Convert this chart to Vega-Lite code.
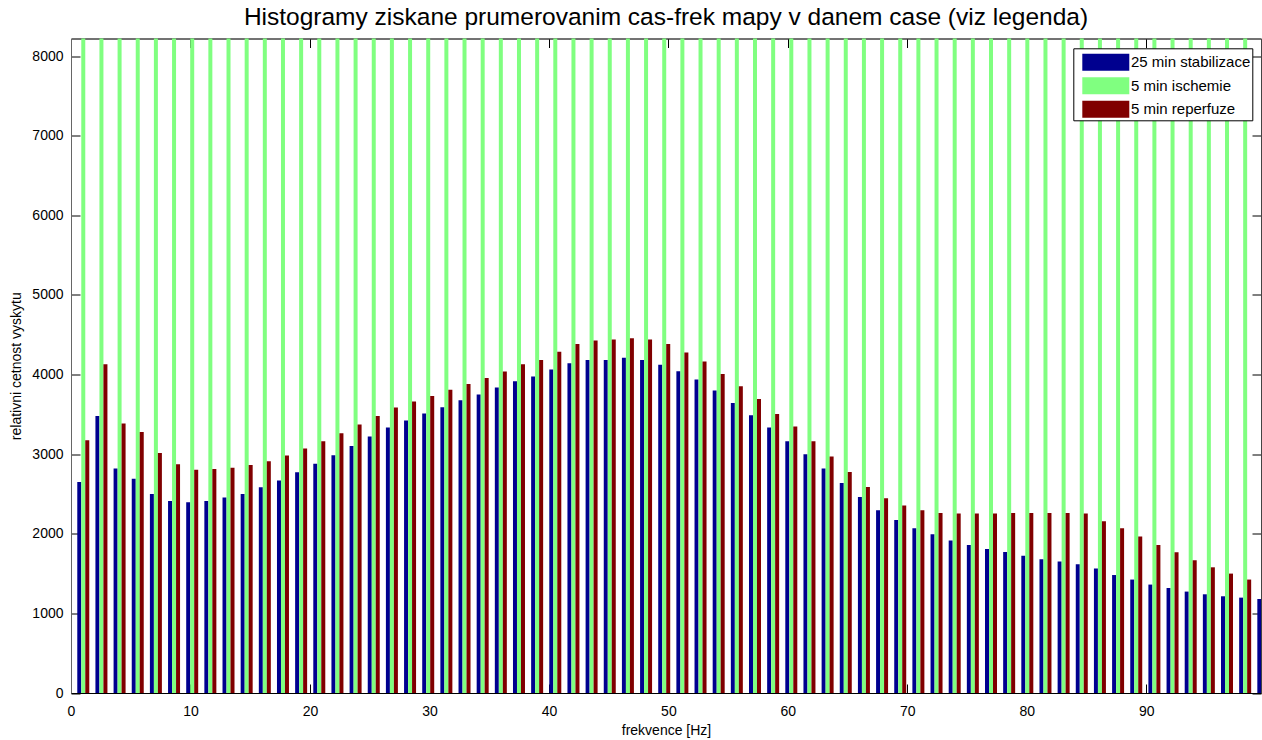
{
"$schema": "https://vega.github.io/schema/vega-lite/v6.json",
"width": 1190, "height": 654.5,
"autosize": {"type": "none"},
"padding": {"left": 71, "top": 38.5, "right": 1, "bottom": 47},
"background": "white",
"title": {"text": "Histogramy ziskane prumerovanim cas-frek mapy v danem case (viz legenda)", "font": "Liberation Sans", "fontSize": 24.5, "fontWeight": "normal", "color": "black", "anchor": "middle", "frame": "group", "offset": 7.5},
"data": {"values": [
{"f":1.02,"s":"25 min stabilizace","v":2651},{"f":1.02,"s":"5 min ischemie","v":9000},{"f":1.02,"s":"5 min reperfuze","v":3175},
{"f":2.54,"s":"25 min stabilizace","v":3480},{"f":2.54,"s":"5 min ischemie","v":9000},{"f":2.54,"s":"5 min reperfuze","v":4129},
{"f":4.06,"s":"25 min stabilizace","v":2819},{"f":4.06,"s":"5 min ischemie","v":9000},{"f":4.06,"s":"5 min reperfuze","v":3384},
{"f":5.58,"s":"25 min stabilizace","v":2693},{"f":5.58,"s":"5 min ischemie","v":9000},{"f":5.58,"s":"5 min reperfuze","v":3279},
{"f":7.10,"s":"25 min stabilizace","v":2500},{"f":7.10,"s":"5 min ischemie","v":9000},{"f":7.10,"s":"5 min reperfuze","v":3015},
{"f":8.62,"s":"25 min stabilizace","v":2412},{"f":8.62,"s":"5 min ischemie","v":9000},{"f":8.62,"s":"5 min reperfuze","v":2873},
{"f":10.14,"s":"25 min stabilizace","v":2396},{"f":10.14,"s":"5 min ischemie","v":9000},{"f":10.14,"s":"5 min reperfuze","v":2806},
{"f":11.66,"s":"25 min stabilizace","v":2412},{"f":11.66,"s":"5 min ischemie","v":9000},{"f":11.66,"s":"5 min reperfuze","v":2814},
{"f":13.18,"s":"25 min stabilizace","v":2455},{"f":13.18,"s":"5 min ischemie","v":9000},{"f":13.18,"s":"5 min reperfuze","v":2831},
{"f":14.70,"s":"25 min stabilizace","v":2500},{"f":14.70,"s":"5 min ischemie","v":9000},{"f":14.70,"s":"5 min reperfuze","v":2864},
{"f":16.21,"s":"25 min stabilizace","v":2584},{"f":16.21,"s":"5 min ischemie","v":9000},{"f":16.21,"s":"5 min reperfuze","v":2911},
{"f":17.73,"s":"25 min stabilizace","v":2668},{"f":17.73,"s":"5 min ischemie","v":9000},{"f":17.73,"s":"5 min reperfuze","v":2982},
{"f":19.25,"s":"25 min stabilizace","v":2773},{"f":19.25,"s":"5 min ischemie","v":9000},{"f":19.25,"s":"5 min reperfuze","v":3070},
{"f":20.77,"s":"25 min stabilizace","v":2880},{"f":20.77,"s":"5 min ischemie","v":9000},{"f":20.77,"s":"5 min reperfuze","v":3162},
{"f":22.29,"s":"25 min stabilizace","v":2986},{"f":22.29,"s":"5 min ischemie","v":9000},{"f":22.29,"s":"5 min reperfuze","v":3263},
{"f":23.81,"s":"25 min stabilizace","v":3103},{"f":23.81,"s":"5 min ischemie","v":9000},{"f":23.81,"s":"5 min reperfuze","v":3372},
{"f":25.33,"s":"25 min stabilizace","v":3221},{"f":25.33,"s":"5 min ischemie","v":9000},{"f":25.33,"s":"5 min reperfuze","v":3480},
{"f":26.85,"s":"25 min stabilizace","v":3334},{"f":26.85,"s":"5 min ischemie","v":9000},{"f":26.85,"s":"5 min reperfuze","v":3585},
{"f":28.37,"s":"25 min stabilizace","v":3422},{"f":28.37,"s":"5 min ischemie","v":9000},{"f":28.37,"s":"5 min reperfuze","v":3661},
{"f":29.89,"s":"25 min stabilizace","v":3510},{"f":29.89,"s":"5 min ischemie","v":9000},{"f":29.89,"s":"5 min reperfuze","v":3731},
{"f":31.41,"s":"25 min stabilizace","v":3589},{"f":31.41,"s":"5 min ischemie","v":9000},{"f":31.41,"s":"5 min reperfuze","v":3811},
{"f":32.93,"s":"25 min stabilizace","v":3677},{"f":32.93,"s":"5 min ischemie","v":9000},{"f":32.93,"s":"5 min reperfuze","v":3882},
{"f":34.45,"s":"25 min stabilizace","v":3749},{"f":34.45,"s":"5 min ischemie","v":9000},{"f":34.45,"s":"5 min reperfuze","v":3957},
{"f":35.97,"s":"25 min stabilizace","v":3837},{"f":35.97,"s":"5 min ischemie","v":9000},{"f":35.97,"s":"5 min reperfuze","v":4038},
{"f":37.49,"s":"25 min stabilizace","v":3916},{"f":37.49,"s":"5 min ischemie","v":9000},{"f":37.49,"s":"5 min reperfuze","v":4129},
{"f":39.01,"s":"25 min stabilizace","v":3975},{"f":39.01,"s":"5 min ischemie","v":9000},{"f":39.01,"s":"5 min reperfuze","v":4183},
{"f":40.53,"s":"25 min stabilizace","v":4065},{"f":40.53,"s":"5 min ischemie","v":9000},{"f":40.53,"s":"5 min reperfuze","v":4287},
{"f":42.05,"s":"25 min stabilizace","v":4142},{"f":42.05,"s":"5 min ischemie","v":9000},{"f":42.05,"s":"5 min reperfuze","v":4385},
{"f":43.56,"s":"25 min stabilizace","v":4183},{"f":43.56,"s":"5 min ischemie","v":9000},{"f":43.56,"s":"5 min reperfuze","v":4427},
{"f":45.08,"s":"25 min stabilizace","v":4183},{"f":45.08,"s":"5 min ischemie","v":9000},{"f":45.08,"s":"5 min reperfuze","v":4440},
{"f":46.60,"s":"25 min stabilizace","v":4213},{"f":46.60,"s":"5 min ischemie","v":9000},{"f":46.60,"s":"5 min reperfuze","v":4456},
{"f":48.12,"s":"25 min stabilizace","v":4183},{"f":48.12,"s":"5 min ischemie","v":9000},{"f":48.12,"s":"5 min reperfuze","v":4440},
{"f":49.64,"s":"25 min stabilizace","v":4125},{"f":49.64,"s":"5 min ischemie","v":9000},{"f":49.64,"s":"5 min reperfuze","v":4385},
{"f":51.16,"s":"25 min stabilizace","v":4041},{"f":51.16,"s":"5 min ischemie","v":9000},{"f":51.16,"s":"5 min reperfuze","v":4276},
{"f":52.68,"s":"25 min stabilizace","v":3937},{"f":52.68,"s":"5 min ischemie","v":9000},{"f":52.68,"s":"5 min reperfuze","v":4163},
{"f":54.20,"s":"25 min stabilizace","v":3799},{"f":54.20,"s":"5 min ischemie","v":9000},{"f":54.20,"s":"5 min reperfuze","v":4008},
{"f":55.72,"s":"25 min stabilizace","v":3643},{"f":55.72,"s":"5 min ischemie","v":9000},{"f":55.72,"s":"5 min reperfuze","v":3853},
{"f":57.24,"s":"25 min stabilizace","v":3489},{"f":57.24,"s":"5 min ischemie","v":9000},{"f":57.24,"s":"5 min reperfuze","v":3693},
{"f":58.76,"s":"25 min stabilizace","v":3334},{"f":58.76,"s":"5 min ischemie","v":9000},{"f":58.76,"s":"5 min reperfuze","v":3505},
{"f":60.28,"s":"25 min stabilizace","v":3162},{"f":60.28,"s":"5 min ischemie","v":9000},{"f":60.28,"s":"5 min reperfuze","v":3347},
{"f":61.80,"s":"25 min stabilizace","v":2999},{"f":61.80,"s":"5 min ischemie","v":9000},{"f":61.80,"s":"5 min reperfuze","v":3162},
{"f":63.32,"s":"25 min stabilizace","v":2819},{"f":63.32,"s":"5 min ischemie","v":9000},{"f":63.32,"s":"5 min reperfuze","v":2970},
{"f":64.84,"s":"25 min stabilizace","v":2638},{"f":64.84,"s":"5 min ischemie","v":9000},{"f":64.84,"s":"5 min reperfuze","v":2776},
{"f":66.36,"s":"25 min stabilizace","v":2462},{"f":66.36,"s":"5 min ischemie","v":9000},{"f":66.36,"s":"5 min reperfuze","v":2588},
{"f":67.88,"s":"25 min stabilizace","v":2295},{"f":67.88,"s":"5 min ischemie","v":9000},{"f":67.88,"s":"5 min reperfuze","v":2446},
{"f":69.39,"s":"25 min stabilizace","v":2173},{"f":69.39,"s":"5 min ischemie","v":9000},{"f":69.39,"s":"5 min reperfuze","v":2354},
{"f":70.91,"s":"25 min stabilizace","v":2069},{"f":70.91,"s":"5 min ischemie","v":9000},{"f":70.91,"s":"5 min reperfuze","v":2295},
{"f":72.43,"s":"25 min stabilizace","v":1994},{"f":72.43,"s":"5 min ischemie","v":9000},{"f":72.43,"s":"5 min reperfuze","v":2261},
{"f":73.95,"s":"25 min stabilizace","v":1915},{"f":73.95,"s":"5 min ischemie","v":9000},{"f":73.95,"s":"5 min reperfuze","v":2254},
{"f":75.47,"s":"25 min stabilizace","v":1859},{"f":75.47,"s":"5 min ischemie","v":9000},{"f":75.47,"s":"5 min reperfuze","v":2254},
{"f":76.99,"s":"25 min stabilizace","v":1809},{"f":76.99,"s":"5 min ischemie","v":9000},{"f":76.99,"s":"5 min reperfuze","v":2254},
{"f":78.51,"s":"25 min stabilizace","v":1771},{"f":78.51,"s":"5 min ischemie","v":9000},{"f":78.51,"s":"5 min reperfuze","v":2261},
{"f":80.03,"s":"25 min stabilizace","v":1724},{"f":80.03,"s":"5 min ischemie","v":9000},{"f":80.03,"s":"5 min reperfuze","v":2261},
{"f":81.55,"s":"25 min stabilizace","v":1680},{"f":81.55,"s":"5 min ischemie","v":9000},{"f":81.55,"s":"5 min reperfuze","v":2261},
{"f":83.07,"s":"25 min stabilizace","v":1651},{"f":83.07,"s":"5 min ischemie","v":9000},{"f":83.07,"s":"5 min reperfuze","v":2261},
{"f":84.59,"s":"25 min stabilizace","v":1617},{"f":84.59,"s":"5 min ischemie","v":9000},{"f":84.59,"s":"5 min reperfuze","v":2254},
{"f":86.11,"s":"25 min stabilizace","v":1563},{"f":86.11,"s":"5 min ischemie","v":9000},{"f":86.11,"s":"5 min reperfuze","v":2157},
{"f":87.63,"s":"25 min stabilizace","v":1482},{"f":87.63,"s":"5 min ischemie","v":9000},{"f":87.63,"s":"5 min reperfuze","v":2069},
{"f":89.15,"s":"25 min stabilizace","v":1425},{"f":89.15,"s":"5 min ischemie","v":9000},{"f":89.15,"s":"5 min reperfuze","v":1965},
{"f":90.67,"s":"25 min stabilizace","v":1362},{"f":90.67,"s":"5 min ischemie","v":9000},{"f":90.67,"s":"5 min reperfuze","v":1859},
{"f":92.19,"s":"25 min stabilizace","v":1319},{"f":92.19,"s":"5 min ischemie","v":9000},{"f":92.19,"s":"5 min reperfuze","v":1768},
{"f":93.71,"s":"25 min stabilizace","v":1274},{"f":93.71,"s":"5 min ischemie","v":9000},{"f":93.71,"s":"5 min reperfuze","v":1667},
{"f":95.23,"s":"25 min stabilizace","v":1240},{"f":95.23,"s":"5 min ischemie","v":9000},{"f":95.23,"s":"5 min reperfuze","v":1579},
{"f":96.74,"s":"25 min stabilizace","v":1215},{"f":96.74,"s":"5 min ischemie","v":9000},{"f":96.74,"s":"5 min reperfuze","v":1500},
{"f":98.26,"s":"25 min stabilizace","v":1198},{"f":98.26,"s":"5 min ischemie","v":9000},{"f":98.26,"s":"5 min reperfuze","v":1425},
{"f":99.78,"s":"25 min stabilizace","v":1181},{"f":99.78,"s":"5 min ischemie","v":9000},{"f":99.78,"s":"5 min reperfuze","v":1360}
]},
"layer": [
 {"mark": {"type": "bar", "clip": true},
  "encoding": {
   "x": {"field": "f", "type": "ordinal", "scale": {"range": [3.2, 1201.4], "paddingInner": 0.339, "paddingOuter": 0.1695, "round": false}, "axis": null},
   "xOffset": {"field": "s", "type": "nominal", "scale": {"domain": ["25 min stabilizace", "5 min ischemie", "5 min reperfuze"], "paddingInner": 0, "paddingOuter": 0}},
   "y": {"field": "v", "type": "quantitative", "scale": {"domain": [0, 8222], "nice": false, "zero": true},
         "axis": {"orient": "left", "values": [0,1000,2000,3000,4000,5000,6000,7000,8000], "format": "d", "tickSize": -9, "labelPadding": 17, "labelFontSize": 14, "title": "relativni cetnost vyskytu", "titleFontSize": 14, "titleFontWeight": "normal", "titlePadding": 8, "domainColor": "#666"}},
   "color": {"field": "s", "type": "nominal", "scale": {"domain": ["25 min stabilizace", "5 min ischemie", "5 min reperfuze"], "range": ["#00008F", "#80FF80", "#800000"]},
             "legend": {"orient": "none", "legendX": 1002.3, "legendY": 9.8, "direction": "vertical", "title": null, "fillColor": "white", "strokeColor": "black", "padding": 2, "symbolType": "M-1.958,-0.708L1.958,-0.708L1.958,0.708L-1.958,0.708Z", "symbolSize": 576, "symbolStrokeWidth": 0, "symbolOpacity": 1, "labelFont": "Liberation Sans", "labelFontSize": 15, "labelColor": "black", "labelOffset": 13.2, "rowPadding": 2.5, "symbolOffset": 18.5, "labelLimit": 300}}
  }},
 {"mark": {"type": "point", "opacity": 0, "clip": true},
  "encoding": {
   "x": {"field": "f", "type": "quantitative", "scale": {"domain": [0, 99.6], "nice": false, "zero": false},
         "axis": {"orient": "bottom", "values": [0,10,20,30,40,50,60,70,80,90], "format": "d", "tickSize": -9, "labelPadding": 20.5, "labelFontSize": 14, "title": "frekvence [Hz]", "titleFontSize": 14, "titleFontWeight": "normal", "titlePadding": 5}},
   "y": {"field": "v", "type": "quantitative", "axis": {"orient": "right", "values": [0,1000,2000,3000,4000,5000,6000,7000,8000], "labels": false, "tickSize": -9, "title": null, "domainColor": "#444"}}
  }},
 {"mark": {"type": "point", "opacity": 0, "clip": true},
  "encoding": {
   "x": {"field": "f", "type": "quantitative", "scale": {"domain": [0, 99.6], "nice": false, "zero": false},
         "axis": {"orient": "top", "values": [0,10,20,30,40,50,60,70,80,90], "labels": false, "tickSize": -9, "title": null, "domainColor": "#444"}}
  }}
],
"resolve": {"scale": {"x": "independent"}, "axis": {"x": "independent", "y": "independent"}},
"config": {
 "view": {"stroke": "#444", "strokeWidth": 1},
 "axis": {"grid": false, "labelFont": "Liberation Sans", "titleFont": "Liberation Sans", "labelColor": "black", "titleColor": "black", "domainColor": "black", "tickColor": "black", "labelFlush": false, "labelOverlap": false}
}
}
